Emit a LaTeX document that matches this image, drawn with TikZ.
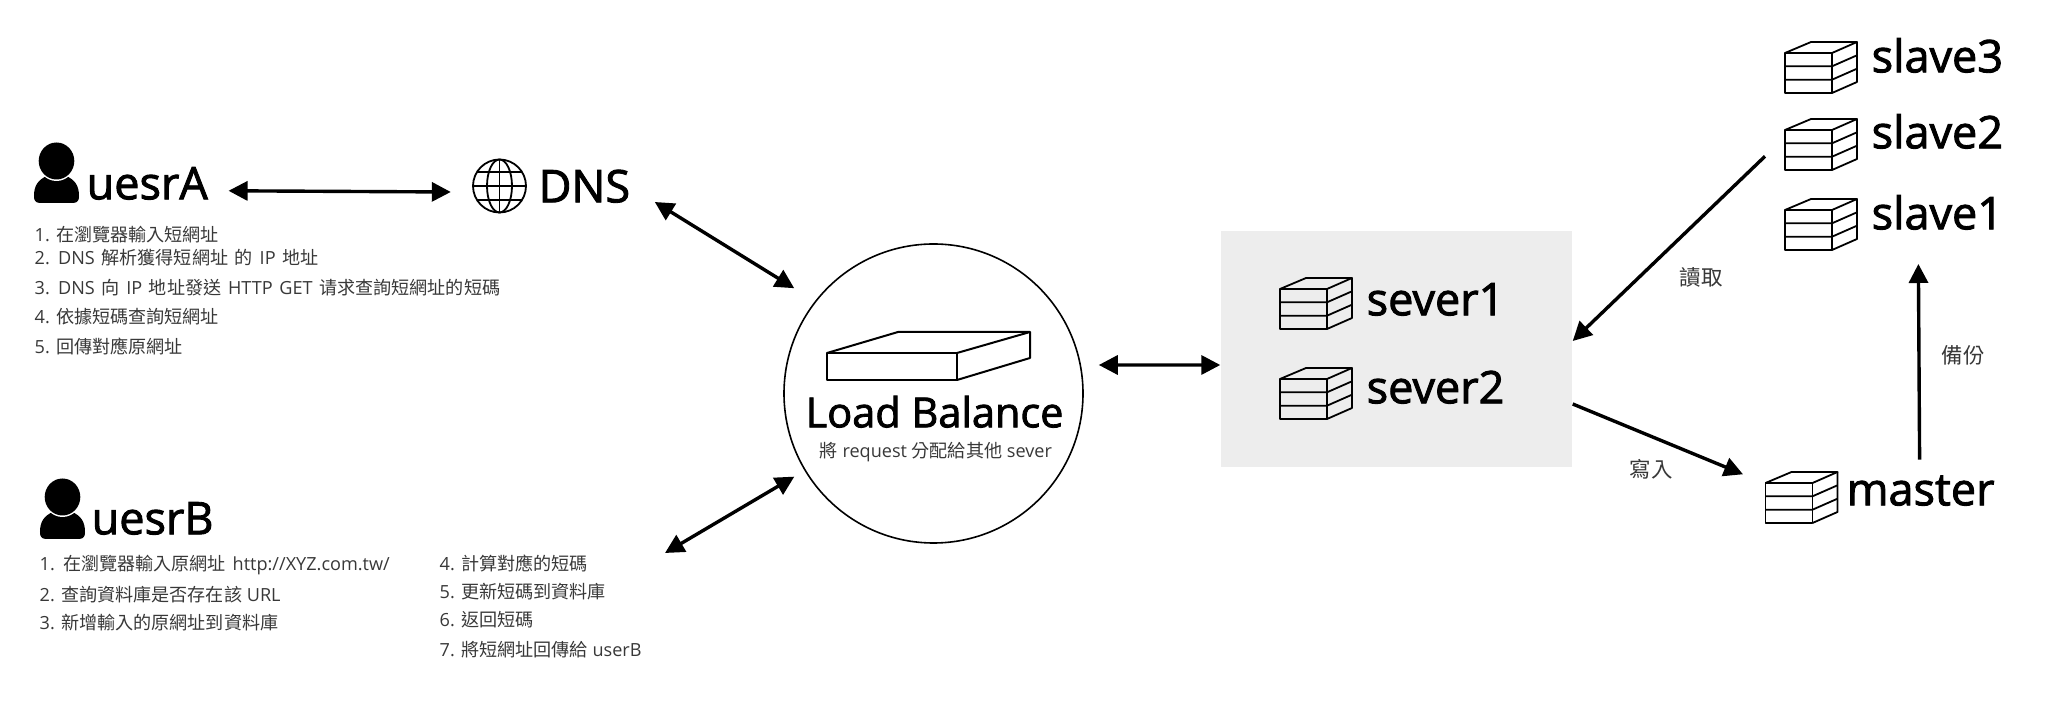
\documentclass[tikz,border=0pt]{standalone}
\usepackage{fontspec}
\setmainfont{Open Sans}
\newfontfamily\bigfont[FakeBold=2]{Open Sans}
\newfontfamily\cjk{Noto Sans CJK TC}
\usetikzlibrary{arrows.meta}
\tikzset{
  >={Triangle[length=.19cm,width=.19cm]},
  linkline/.style={line width=.034cm},
  bigtext/.style={anchor=south west,inner sep=0,text height=.29cm,text depth=0,font=\fontsize{12.8}{13}\bigfont},
  smalltext/.style={anchor=west,inner sep=0,text=black!78,font=\fontsize{5.15}{6}\selectfont},
  widespace/.style={execute at begin node={\spaceskip=1.9pt}},
  notetext/.style={inner sep=0,text=black!78,font=\fontsize{6.1}{7}\selectfont\cjk},
  iconline/.style={line width=.018cm,line join=round},
  iconbox/.style={inner sep=0,minimum width=.72cm,minimum height=.51cm},
}
% three layer block, x y = front bottom left corner
\newcommand{\blockicon}[3]{
  \node[iconbox,anchor=south west] (#3) at (#1,#2) {};
  \begin{scope}[shift={(#1,#2)},iconline]
    \draw (0,0) rectangle (.47,.40) ;
    \draw (0,.40) -- (.26,.51) -- (.72,.51) -- (.47,.40) ;
    \draw (.72,.51) -- (.72,.11) -- (.47,0) ;
    \foreach \h in {.133,.267} {
      \draw (0,\h) -- (.47,\h) -- (.72,\h+.11) ;
    }
  \end{scope}
}
% user figure, x y = top middle
\newcommand{\usericon}[3]{
  \node[inner sep=0,minimum width=.45cm,minimum height=.60cm,anchor=north] (#3) at (#1,#2) {};
  \begin{scope}[shift={(#1,#2)}]
    \fill (-.225,-.53) .. controls (-.225,-.42) and (-.18,-.37) .. (-.10,-.33)
      -- (.10,-.33) .. controls (.18,-.37) and (.225,-.42) .. (.225,-.53)
      .. controls (.225,-.60) and (.19,-.60) .. (.14,-.60)
      -- (-.14,-.60) .. controls (-.19,-.60) and (-.225,-.60) .. cycle ;
    \fill[white] (0,-.18) ellipse (.19 and .20) ;
    \fill (0,-.18) ellipse (.178 and .185) ;
  \end{scope}
}
\begin{document}
\begin{tikzpicture}
  \useasboundingbox (0,0) rectangle (20.46,-7.11) ;

  % servers area
  \node[fill=black!7,inner sep=0,minimum width=3.51cm,minimum height=2.36cm] (severbox) at (13.965,-3.49) {};

  % left side
  \usericon{.565}{-1.43}{iconA}
  \node[bigtext] (uesrA) at (.86,-2.00) {uesrA};
  \node[smalltext] (a1) at (.34,-2.35) {1. {\cjk 在瀏覽器輸入短網址}};
  \node[smalltext,widespace] (a2) at (.34,-2.58) {2. DNS {\cjk 解析獲得短網址} {\cjk 的} IP {\cjk 地址}};
  \node[smalltext,widespace] (a3) at (.34,-2.88) {3. DNS {\cjk 向} IP {\cjk 地址發送} HTTP GET {\cjk 请求查詢短網址的短碼}};
  \node[smalltext] (a4) at (.34,-3.17) {4. {\cjk 依據短碼查詢短網址}};
  \node[smalltext] (a5) at (.34,-3.46) {5. {\cjk 回傳對應原網址}};

  \usericon{.625}{-4.79}{iconB}
  \node[bigtext] (uesrB) at (.91,-5.35) {uesrB};
  \node[smalltext,widespace] (b1) at (.39,-5.65) {1. {\cjk 在瀏覽器輸入原網址} http://XYZ.com.tw/};
  \node[smalltext] (b2) at (.39,-5.95) {2. {\cjk 查詢資料庫是否存在該} URL};
  \node[smalltext] (b3) at (.39,-6.23) {3. {\cjk 新增輸入的原網址到資料庫}};
  \node[smalltext] (b4) at (4.39,-5.63) {4. {\cjk 計算對應的短碼}};
  \node[smalltext] (b5) at (4.39,-5.92) {5. {\cjk 更新短碼到資料庫}};
  \node[smalltext] (b6) at (4.39,-6.20) {6. {\cjk 返回短碼}};
  \node[smalltext] (b7) at (4.39,-6.50) {7. {\cjk 將短網址回傳給} userB};
  \coordinate (uesrBlink) at (6.65,-5.53) ;

  % dns
  \node[circle,inner sep=0,minimum size=.53cm] (globe) at (4.995,-1.86) {};
  \begin{scope}[shift={(globe.center)},iconline]
    \draw (0,0) circle (.265) ;
    \draw (0,0) ellipse (.125 and .265) ;
    \draw (0,-.265) -- (0,.265) ;
    \draw (-.265,0) -- (.265,0) ;
    \draw (-.225,.14) -- (.225,.14) ;
    \draw (-.225,-.14) -- (.225,-.14) ;
  \end{scope}
  \node[bigtext] (dns) at (5.38,-2.03) {DNS};

  % load balance
  \node[circle,draw,line width=.016cm,inner sep=0,minimum size=2.99cm] (lb) at (9.335,-3.935) {};
  \draw[iconline,line width=.02cm] (8.27,-3.80) rectangle (9.57,-3.53) ;
  \draw[iconline,line width=.02cm] (8.27,-3.53) -- (8.98,-3.32) -- (10.30,-3.32) -- (9.57,-3.53) ;
  \draw[iconline,line width=.02cm] (10.30,-3.32) -- (10.30,-3.58) -- (9.57,-3.80) ;
  \node[bigtext,font=\fontsize{11.8}{13}\bigfont] (lbtitle) at (8.05,-4.28) {Load Balance};
  \node[smalltext] (lbnote) at (8.19,-4.52) {{\cjk 將} request {\cjk 分配給其他} sever};

  % servers
  \blockicon{12.80}{-3.29}{icon1}
  \node[bigtext] (sever1) at (13.66,-3.16) {sever1};
  \blockicon{12.80}{-4.19}{icon2}
  \node[bigtext] (sever2) at (13.66,-4.04) {sever2};

  \blockicon{17.85}{-.93}{iconS3}
  \node[bigtext] (slave3) at (18.71,-.73) {slave3};
  \blockicon{17.85}{-1.70}{iconS2}
  \node[bigtext] (slave2) at (18.71,-1.49) {slave2};
  \blockicon{17.85}{-2.50}{iconS1}
  \node[bigtext] (slave1) at (18.71,-2.30) {slave1};

  \blockicon{17.655}{-5.23}{iconM}
  \node[bigtext] (master) at (18.46,-5.06) {master};

  % links
  \draw[<->,linkline] ([shift={(.20,-.06)}]uesrA.east) -- ([shift={(-.215,-.06)}]globe.west) ;
  \draw[<->,linkline] ([shift={(.24,.01)}]dns.south east) -- ([shift={(-.33,-.01)}]lb.135) ;
  \draw[<->,linkline] (uesrBlink) -- ([shift={(-.09,-.08)}]lb.210) ;
  \draw[<->,linkline] ([shift={(.15,.285)}]lb.east) -- ([yshift=-.16cm]severbox.west) ;
  \draw[->,linkline] ([shift={(-.20,-.125)}]iconS2.west) -- ([yshift=.08cm]severbox.east) ;
  \draw[->,linkline] ([yshift=-.55cm]severbox.east) -- ([shift={(-.225,.225)}]iconM.west) ;
  \draw[->,linkline] ([shift={(-.01,.16)}]master.north) -- ([shift={(-.19,-.34)}]slave1.south) ;

  \node[notetext] (readnote) at (17.01,-2.77) {讀取};
  \node[notetext] (writenote) at (16.51,-4.69) {寫入};
  \node[notetext] (backupnote) at (19.63,-3.55) {備份};
\end{tikzpicture}
\end{document}
